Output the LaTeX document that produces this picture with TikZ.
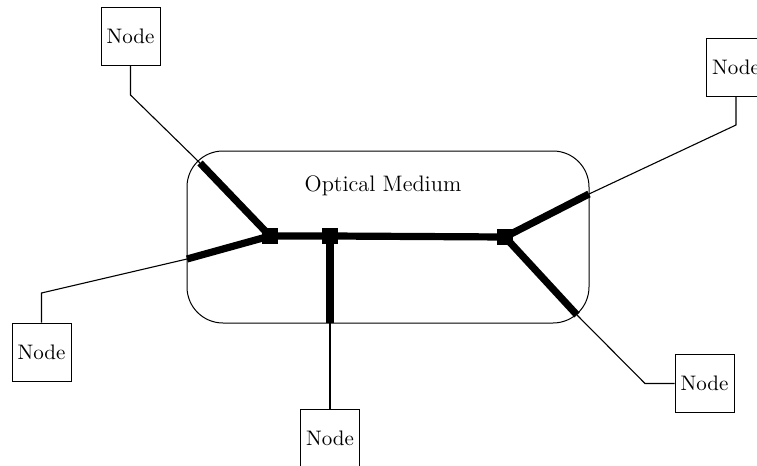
\documentclass[tikz,border=0pt]{standalone}
\usetikzlibrary{positioning}

\begin{document}
\begin{tikzpicture}[x=0.5pt, y=-0.5pt,
  station/.style={draw, line width=0.5pt, minimum width=29.5pt, minimum height=29pt, inner sep=0pt, font=\fontsize{10.5}{12}\selectfont},
  coupler/.style={fill, minimum size=8pt, inner sep=0pt},
  fiber/.style={line width=0.55pt},
  trunk/.style={line width=3.6pt}]
  \clip (0,0) rectangle (757,466);
  \node[draw, line width=0.5pt, rounded corners=18pt, minimum width=201pt, minimum height=86pt] (medium) at (388,237) {};
  \node[font=\fontsize{11.2}{13}\selectfont] (title) at (383,186) {Optical Medium};

  \node[station] (n1) at (130.5,36) {Node};
  \node[station] (n2) at (736,67.5) {Node};
  \node[station] (n3) at (41.5,352) {Node};
  \node[station] (n4) at (330,438.5) {Node};
  \node[station] (n5) at (704.5,383.5) {Node};

  \node[coupler] (c1) at (270,236) {};
  \node[coupler] (c2) at (330,236) {};
  \node[coupler] (c3) at (505,237) {};

  \coordinate (b1) at (130.5,95);
  \coordinate (e1) at (200,163);
  \coordinate (b2) at (736,125);
  \coordinate (e2) at (589,194);
  \coordinate (b3) at (41.5,293);
  \coordinate (e3) at (187,259);
  \coordinate (e4) at (330,323);
  \coordinate (b5) at (645,383.5);
  \coordinate (e5) at (577,315);

  \draw[fiber] (n1) -- (b1) -- (e1);
  \draw[fiber] (n2) -- (b2) -- (e2);
  \draw[fiber] (n3) -- (b3) -- (e3);
  \draw[fiber] (n4) -- (e4);
  \draw[fiber] (n5) -- (b5) -- (e5);

  \draw[trunk] (e1) -- (c1.center);
  \draw[trunk] (e3) -- (c1.center);
  \draw[trunk] (c1.center) -- (c2.center) -- (c3.center);
  \draw[trunk] (c2.center) -- (e4);
  \draw[trunk] (e2) -- (c3.center);
  \draw[trunk] (e5) -- (c3.center);
\end{tikzpicture}
\end{document}
